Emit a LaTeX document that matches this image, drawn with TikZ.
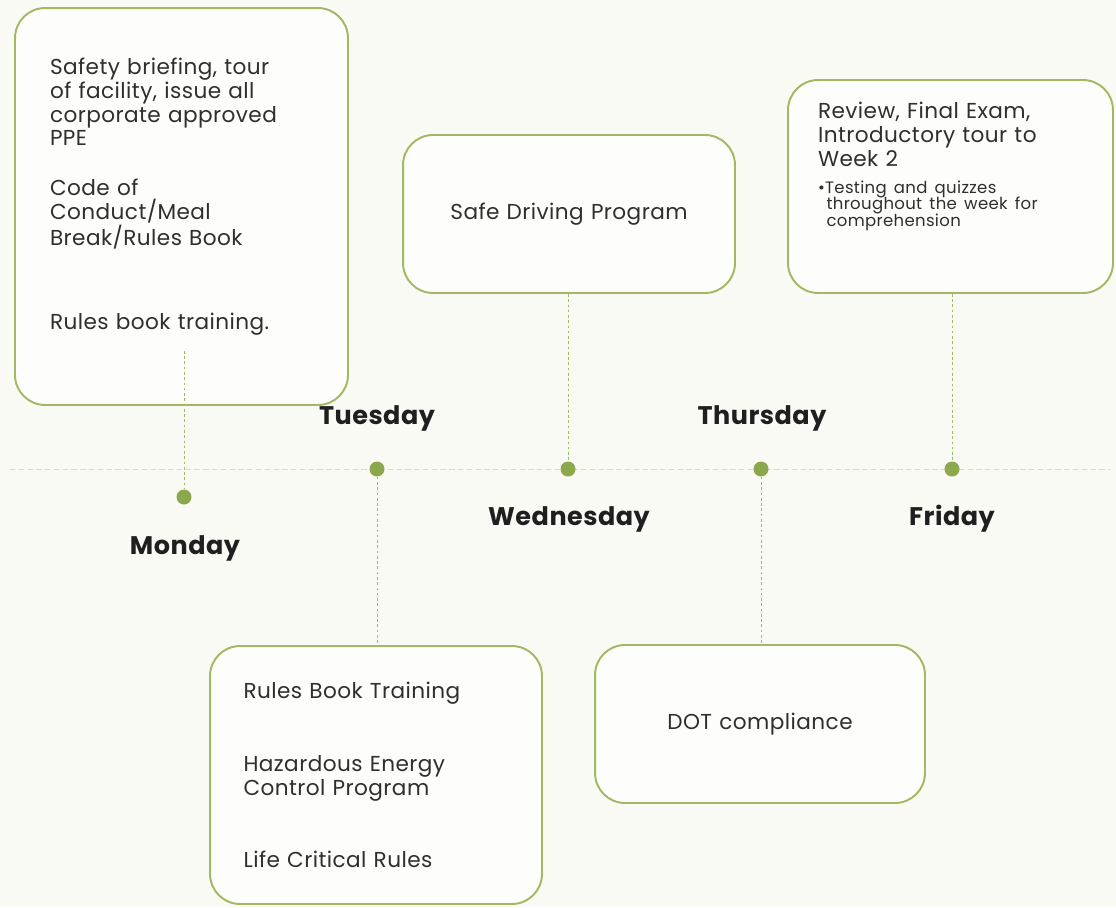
\documentclass[tikz,border=0pt]{standalone}
\usepackage{fontspec}
\setmainfont{Poppins}[LetterSpace=2]
\usetikzlibrary{positioning}
\definecolor{tlgreen}{HTML}{A2B862}
\definecolor{tldot}{HTML}{8BA84C}
\definecolor{tlpaper}{HTML}{FAFAF5}
\definecolor{tlink}{HTML}{2F2F2F}

\begin{document}
\begin{tikzpicture}[
  x=0.02cm, y=-0.02cm,
  daybox/.style={draw=tlgreen, line width=1.1pt, rounded corners=0.6cm, fill=white!60!tlpaper, inner xsep=0pt, inner ysep=0pt, text=tlink, font=\fontsize{12.3}{13.6}\selectfont},
  dayname/.style={font=\fontsize{14.5}{16}\selectfont\bfseries, text=black!88},
  daydot/.style={circle, fill=tldot, inner sep=0pt, minimum size=0.3cm},
  link/.style={draw=tlgreen, line width=0.5pt, dash pattern=on 1.5pt off 1.5pt},
  timeline/.style={draw=tlgreen!45, line width=0.5pt, dash pattern=on 3pt off 2pt}
]
\fill[tlpaper] (0,0) rectangle (1116,907);
\useasboundingbox (0,0) rectangle (1116,907);

% timeline
\coordinate (tl-start) at (10,469);
\coordinate (tl-end) at (1110,469);
\draw[timeline] (tl-start) -- (tl-end);

% dots
\node[daydot] (mon-dot) at (184,497) {};
\node[daydot] (tue-dot) at (377,469) {};
\node[daydot] (wed-dot) at (568,469) {};
\node[daydot] (thu-dot) at (761,469) {};
\node[daydot] (fri-dot) at (952,469) {};

% day names
\node[dayname] (mon-lbl) at (185,548) {Monday};
\node[dayname] (tue-lbl) at (377,418) {Tuesday};
\node[dayname] (wed-lbl) at (569,519) {Wednesday};
\node[dayname] (thu-lbl) at (762,418) {Thursday};
\node[dayname] (fri-lbl) at (952,519) {Friday};

% boxes
\node[daybox, align=left, text width=5.26cm, minimum width=6.66cm, minimum height=7.94cm] (mon-box) at (181.5,206.5)
  {Safety briefing, tour\\ of facility, issue all\\ corporate approved\\ PPE\\[0.52cm] Code of\\ Conduct/Meal\\ Break/Rules Book\\[1.2cm] Rules book training.\par\vspace{0.4cm}};
\node[daybox, align=left, text width=5.3cm, minimum width=6.64cm, minimum height=5.16cm] (tue-box) at (376,775)
  {Rules Book Training\\[0.98cm] Hazardous Energy\\ Control Program\\[0.96cm] Life Critical Rules};
\node[daybox, align=center, text width=5.8cm, minimum width=6.64cm, minimum height=3.16cm] (wed-box) at (569,214)
  {Safe Driving Program};
\node[daybox, align=center, text width=5.8cm, minimum width=6.6cm, minimum height=3.16cm] (thu-box) at (760,724)
  {DOT compliance};
\node[daybox, align=left, text width=5.3cm, minimum width=6.5cm, minimum height=4.26cm] (fri-box) at (950.5,186.5)
  {Review, Final Exam,\\ Introductory tour to\\ Week 2\par\vspace{0.2cm}
   {\fontsize{9.4}{9.6}\selectfont\lineskiplimit=-10pt\textbullet Testing and quizzes\\ \hspace*{0.17cm}throughout the week for\\ \hspace*{0.17cm}comprehension\par}\vspace{0.8cm}};

% connectors
\draw[link] ([yshift=1.1cm]mon-box.south -| mon-dot) -- (mon-dot);
\draw[link] (tue-dot) -- (tue-dot |- tue-box.north);
\draw[link] (wed-dot |- wed-box.south) -- (wed-dot);
\draw[link] (thu-dot) -- (thu-dot |- thu-box.north);
\draw[link] (fri-dot |- fri-box.south) -- (fri-dot);
\end{tikzpicture}
\end{document}
